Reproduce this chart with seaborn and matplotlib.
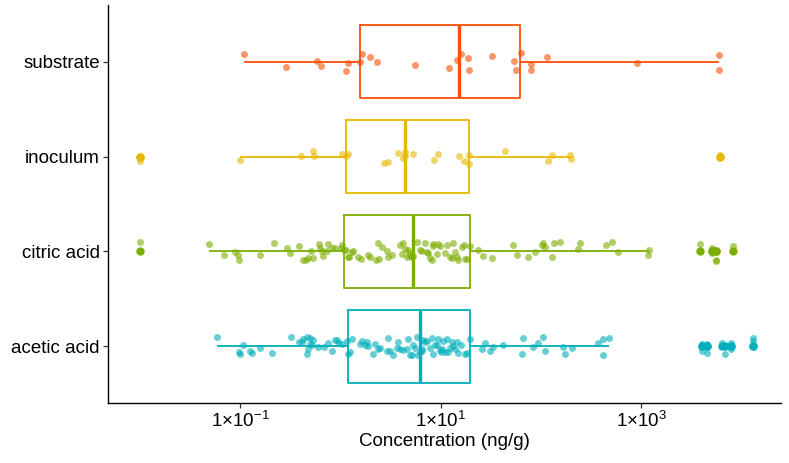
import numpy as np
import pandas as pd
import matplotlib
matplotlib.use("Agg")
import matplotlib.pyplot as plt
from matplotlib.ticker import FixedLocator, FuncFormatter, NullLocator
import seaborn as sns

# categories (top to bottom) and their colours
groups = ["substrate", "inoculum", "citric acid", "acetic acid"]
colors = ["#FC4E07", "#E7B800", "#7CAE00", "#00AFBB"]

# concentrations (ng/g)
substrate = [0.109, 0.288, 0.592, 0.641, 1.13, 1.19, 1.57, 1.64, 2.00, 2.33,
             5.50, 12.2, 14.5, 16.0, 18.6, 19.0, 32.8, 54.1, 56.9, 63.5,
             79.1, 79.1, 116, 906, 5920, 5920]

inoculum = [0.01, 0.01, 0.100, 0.409, 0.530, 0.547, 1.03, 1.15, 1.19, 2.73,
            3.02, 3.76, 4.24, 4.40, 4.41, 5.33, 8.61, 9.42, 15.1, 17.3,
            19.0, 19.1, 43.4, 118, 130, 194, 198, 6100, 6100]

citric_acid = [0.01, 0.049, 0.070, 0.089, 0.096, 0.098, 0.158, 0.217, 0.294, 0.318,
               0.390, 0.428, 0.452, 0.473, 0.507, 0.538, 0.618, 0.628, 0.653, 0.678,
               0.742, 0.759, 0.832, 0.885, 1.01, 1.03,
               1.10, 1.13, 1.2, 1.22, 1.30, 1.35, 1.49, 1.6, 1.90, 2.0,
               2.27, 2.39, 2.45, 2.59, 2.90, 3.02, 3.3, 3.94, 4.09, 4.25,
               4.41, 4.6, 4.76, 4.95, 5.0, 5.15, 5.35, 5.78, 6.24, 6.49,
               7.00, 7.28, 7.55, 7.84, 8.15, 8.34, 8.46, 9.14, 9.5, 9.87,
               11.1, 11.5, 12.4, 12.9, 13.4, 13.9, 14.5, 15.0, 16.3, 17.0,
               17.5, 18.5, 19.7,
               23.8, 26.7, 32.4, 53.1, 57.4, 74.9, 87.3, 102, 106, 110,
               128, 136, 155, 236, 245, 446, 515, 591, 1160, 1205,
               3870, 5040, 5040, 5630, 5630, 8220]

acetic_acid = [0.0594, 0.0984, 0.100, 0.108, 0.126, 0.131, 0.158, 0.207, 0.321, 0.390,
               0.412, 0.428, 0.462, 0.462, 0.480, 0.499, 0.499, 0.519, 0.538, 0.604,
               0.687, 0.759, 0.820, 0.885, 0.920, 0.977, 1.03, 1.16, 1.20,
               1.25, 1.30, 1.57, 1.63, 1.76, 1.83, 1.90, 2.13, 2.22, 2.39,
               2.49, 2.90, 3.02, 3.13, 3.38, 3.65, 3.79, 3.94, 4.25, 4.59,
               4.77, 4.95, 5.15, 5.35, 5.56, 5.8, 6.00, 6.24, 6.49, 6.6,
               6.73, 7.00, 7.28, 7.84, 8.15, 8.47, 8.80, 9.14, 9.50, 9.87,
               10.0, 10.3, 10.6, 11.1, 11.5, 11.9, 12.4, 12.9, 13.4, 13.9,
               14.5, 15.0, 16.0, 17.5, 18.5, 19.7,
               25.7, 27.7, 31.1, 33.6, 42.3, 64.4, 66.9, 84.0, 94.2, 106,
               110, 165, 174, 203, 374, 413, 420, 481,
               4010, 4010, 4500, 4500, 6350, 6860, 7900, 7900, 12900, 12900]

values = [substrate, inoculum, citric_acid, acetic_acid]
df = pd.concat([pd.DataFrame({"group": g, "conc": v}) for g, v in zip(groups, values)],
               ignore_index=True)

sns.set_theme(style="ticks")
plt.rcParams["font.family"] = ["Liberation Sans", "DejaVu Sans"]
plt.rcParams["mathtext.fontset"] = "custom"
plt.rcParams["mathtext.rm"] = "Liberation Sans"
plt.rcParams["mathtext.it"] = "Liberation Sans:italic"

fig, ax = plt.subplots(figsize=(7.89, 4.63), dpi=100)
fig.subplots_adjust(left=108 / 789, right=781 / 789, bottom=1 - 403 / 463, top=1 - 5 / 463)
ax.set_xscale("log")

np.random.seed(7)
for g, c in zip(groups, colors):
    sub = df[df["group"] == g]
    sns.boxplot(data=sub, x="conc", y="group", order=groups, color=c, fill=False,
                width=0.77, linewidth=1.3, showcaps=False, ax=ax,
                medianprops=dict(linewidth=2.4, color=c),
                flierprops=dict(marker="o", markersize=5, markerfacecolor=c,
                                markeredgecolor=c, alpha=1))
    sns.stripplot(data=sub, x="conc", y="group", order=groups, color=c, jitter=0.1,
                  size=5, alpha=0.6, linewidth=0, ax=ax, zorder=3)

ax.set_xlim(10 ** -2.316, 10 ** 4.394)
ax.set_ylim(3.6, -0.6)

def sci_label(v, pos):
    e = int(round(np.log10(v)))
    return r"$1{\times}10^{%d}$" % e

ax.xaxis.set_major_locator(FixedLocator([0.1, 10, 1000]))
ax.xaxis.set_minor_locator(NullLocator())
ax.xaxis.set_major_formatter(FuncFormatter(sci_label))

ax.set_xlabel("Concentration (ng/g)", fontsize=13.5, color="black", labelpad=1)
ax.set_ylabel("")
ax.tick_params(axis="both", labelsize=13.5, labelcolor="black", length=3.5,
               width=0.9, color="#333333", pad=2.5)

sns.despine(ax=ax)
for side in ["left", "bottom"]:
    ax.spines[side].set_color("black")
    ax.spines[side].set_linewidth(1.0)

fig.savefig("out.png", dpi=100)
